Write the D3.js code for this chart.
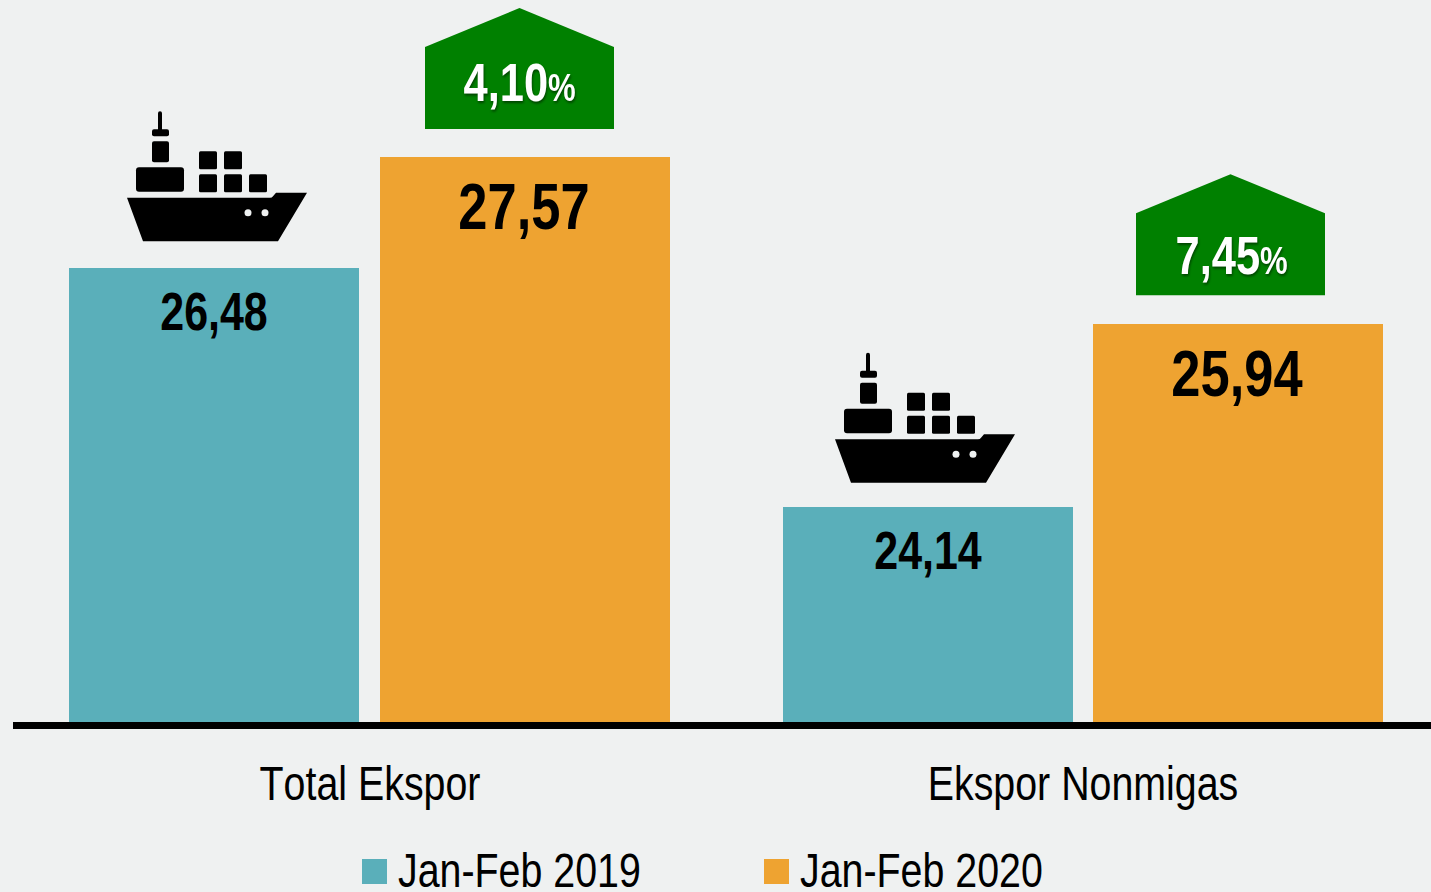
<!DOCTYPE html>
<html><head><meta charset="utf-8">
<script src="https://cdn.jsdelivr.net/npm/d3@7/dist/d3.min.js"></script>
<style>html,body{margin:0;padding:0;background:#eff1f1;overflow:hidden}svg{display:block}text{font-family:"Liberation Sans",Arial,sans-serif;font-kerning:none}</style>
</head><body><svg id="c" width="1431" height="892"></svg>
<script>
const categories = ["Total Ekspor", "Ekspor Nonmigas"];
const seriesNames = ["Jan-Feb 2019", "Jan-Feb 2020"];
const values2019 = [26.48, 24.14];
const values2020 = [27.57, 25.94];
const growth = [4.10, 7.45];
const seriesColors = ["#5aafba", "#eea331"];

const fmt = v => v.toFixed(2).replace(".", ",");
const svg = d3.select("#c");
const baseY = 722;
const y = d3.scaleLinear().domain([22.03, 27.57]).range([baseY, 157]);
const barW = 290;
const barX = [[69, 783], [380, 1093]];

function label(x, yy, txt, size, sx, weight, fill, anchor) {
  return svg.append("text").attr("transform", `translate(${x},${yy}) scale(${sx},1)`)
    .attr("text-anchor", anchor || "middle").attr("font-size", size)
    .attr("font-weight", weight).attr("fill", fill).text(txt);
}

[values2019, values2020].forEach((vals, s) => {
  svg.selectAll(null).data(vals).join("rect")
    .attr("x", (d, i) => barX[s][i])
    .attr("y", d => Math.round(y(d) + 0.3)).attr("width", barW)
    .attr("height", d => baseY - Math.round(y(d) + 0.3)).attr("fill", seriesColors[s]);
});

svg.append("line").attr("x1", 13).attr("x2", 1431).attr("y1", 725.5).attr("y2", 725.5)
  .attr("stroke", "#000").attr("stroke-width", 7);

const shipDX = [-87, -93], shipDY = [-157, -154];
values2019.forEach((v, i) => {
  const cx = barX[0][i] + barW / 2;
  label(cx, y(v) + 62, fmt(v), 53, 0.81, "bold", "#000");
  drawShip(cx + shipDX[i], y(v) + shipDY[i]);
});
const valDY = [72, 73], arrowCX = [519.5, 1230.5], arrowTextDY = [-56, -49], arrowTextDX = [-56, -55];
values2020.forEach((v, i) => {
  const cx = barX[1][i] + barW / 2;
  label(cx - 1, y(v) + valDY[i], fmt(v), 64, 0.82, "bold", "#000");
  drawArrow(arrowCX[i], y(v), growth[i], arrowTextDX[i], arrowTextDY[i]);
});

function drawArrow(cx, top, g, dx, dy) {
  const hw = 94.5;
  const tipY = top - 149, shoulderY = top - 110, botY = top - 28;
  svg.append("polygon").attr("points",
    [[cx, tipY], [cx + hw, shoulderY], [cx + hw, botY], [cx - hw, botY], [cx - hw, shoulderY]].join(" "))
    .attr("fill", "#008000");
  const t = svg.append("text").attr("transform", `translate(${cx + dx},${top + dy}) scale(0.82,1)`)
    .attr("font-weight", "bold").attr("fill", "#fff")
    .style("filter", "drop-shadow(1px 2px 1px rgba(0,0,0,.45))");
  t.append("tspan").attr("font-size", 53).text(fmt(g));
  t.append("tspan").attr("font-size", 38).text("%");
}

function drawShip(px, py) {
  const g = svg.append("g").attr("transform", `translate(${px},${py})`).attr("fill", "#000");
  g.append("path").attr("d", "M0,86.5 L143,86.5 Q145,86.5 146,85 L149,81.5 L180,81.5 L151,130 L16,130 Z");
  g.append("rect").attr("x", 31).attr("y", 0).attr("width", 4).attr("height", 20).attr("rx", 2);
  g.append("rect").attr("x", 25).attr("y", 18).attr("width", 17).attr("height", 7).attr("rx", 2);
  g.append("rect").attr("x", 25).attr("y", 30).attr("width", 17).attr("height", 21).attr("rx", 2);
  g.append("rect").attr("x", 9).attr("y", 56).attr("width", 48).attr("height", 24.5).attr("rx", 3);
  [[72, 40], [97, 40], [72, 63], [97, 63], [122, 63]].forEach(p =>
    g.append("rect").attr("x", p[0]).attr("y", p[1]).attr("width", 18).attr("height", 18).attr("rx", 1.5));
  [121, 138].forEach(cx => g.append("circle").attr("cx", cx).attr("cy", 101.5).attr("r", 3.5).attr("fill", "#eff1f1"));
}

label(370, 800, categories[0], 48, 0.82, "normal", "#000");
label(1083, 800, categories[1], 48, 0.82, "normal", "#000");

const legendX = [362, 764];
seriesNames.forEach((n, i) => {
  svg.append("rect").attr("x", legendX[i]).attr("y", 859).attr("width", 25).attr("height", 25).attr("fill", seriesColors[i]);
  label(legendX[i] + 36, 887, n, 48, 0.82, "normal", "#000", "start");
});
</script></body></html>
